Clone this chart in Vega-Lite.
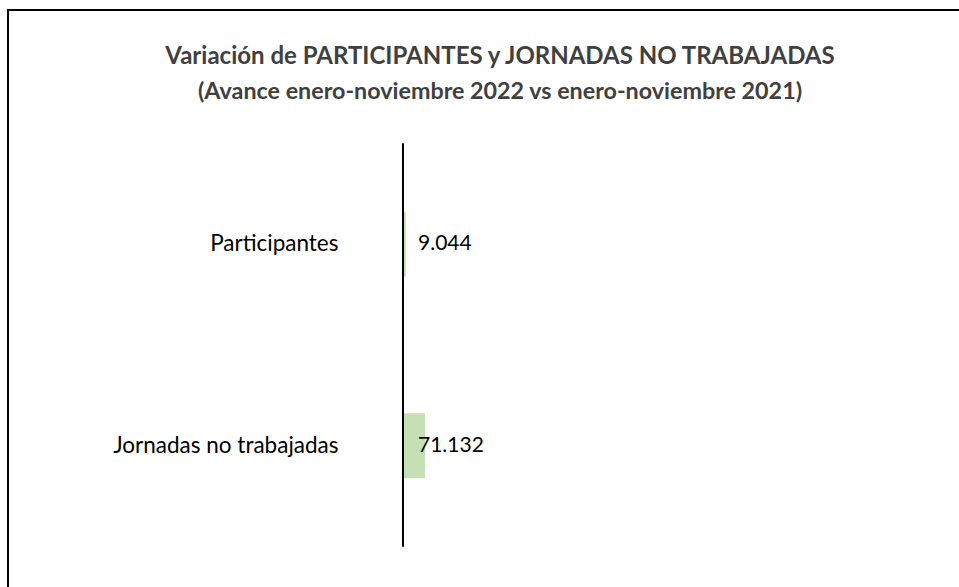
{
  "$schema": "https://vega.github.io/schema/vega-lite/v6.json",
  "width": 1000,
  "height": 670,
  "autosize": {"type": "none"},
  "padding": {"left": 8, "top": 10, "right": -49, "bottom": -93},
  "background": "white",
  "title": {
    "text": "Variación  de PARTICIPANTES  y JORNADAS  NO TRABAJADAS",
    "subtitle": "(Avance enero-noviembre  2022 vs enero-noviembre  2021)",
    "anchor": "middle",
    "offset": -93,
    "dx": -8,
    "font": "Lato",
    "fontSize": 24,
    "fontWeight": "bold",
    "color": "#404040",
    "subtitleFont": "Lato",
    "subtitleFontSize": 23.3,
    "subtitleFontWeight": "bold",
    "subtitleColor": "#404040",
    "subtitlePadding": 12
  },
  "data": {
    "values": [
      {"cat": "Participantes", "value": 9044},
      {"cat": "Jornadas no trabajadas", "value": 71132}
    ]
  },
  "encoding": {
    "y": {
      "field": "cat",
      "type": "nominal",
      "scale": {"domain": ["Participantes", "Jornadas no trabajadas"], "paddingInner": 0.678, "paddingOuter": 1},
      "axis": {"orient": "left", "offset": -395, "domain": false, "ticks": false, "tickSize": 0, "labelPadding": 65, "labelLimit": 400, "title": null, "labelFontSize": 22.5, "labelFont": "Lato", "labelColor": "#000000", "grid": false}
    }
  },
  "layer": [
    {
      "mark": {"type": "bar", "color": "#c5e0b4"},
      "encoding": {
        "x": {"field": "value", "type": "quantitative", "scale": {"domain": [-1277000, 1956000], "nice": false, "zero": false}, "axis": null}
      }
    },
    {
      "mark": {"type": "text", "align": "left", "baseline": "middle", "dx": 15, "font": "Lato", "fontSize": 21, "color": "#000000"},
      "encoding": {
        "x": {"datum": 0, "type": "quantitative"},
        "text": {"field": "value", "type": "quantitative", "format": ",d"}
      }
    },
    {
      "data": {"values": [{}]},
      "mark": {"type": "rule", "color": "#000000", "strokeWidth": 2},
      "encoding": {
        "x": {"datum": 0, "type": "quantitative"},
        "y": {"datum": "Participantes", "type": "nominal", "bandPosition": -1.054},
        "y2": {"datum": "Jornadas no trabajadas", "bandPosition": 2.054}
      }
    }
  ],
  "config": {
    "view": {"stroke": "#000000", "strokeWidth": 2},
    "locale": {"number": {"decimal": ",", "thousands": ".", "grouping": [3], "currency": ["", " €"]}}
  }
}
